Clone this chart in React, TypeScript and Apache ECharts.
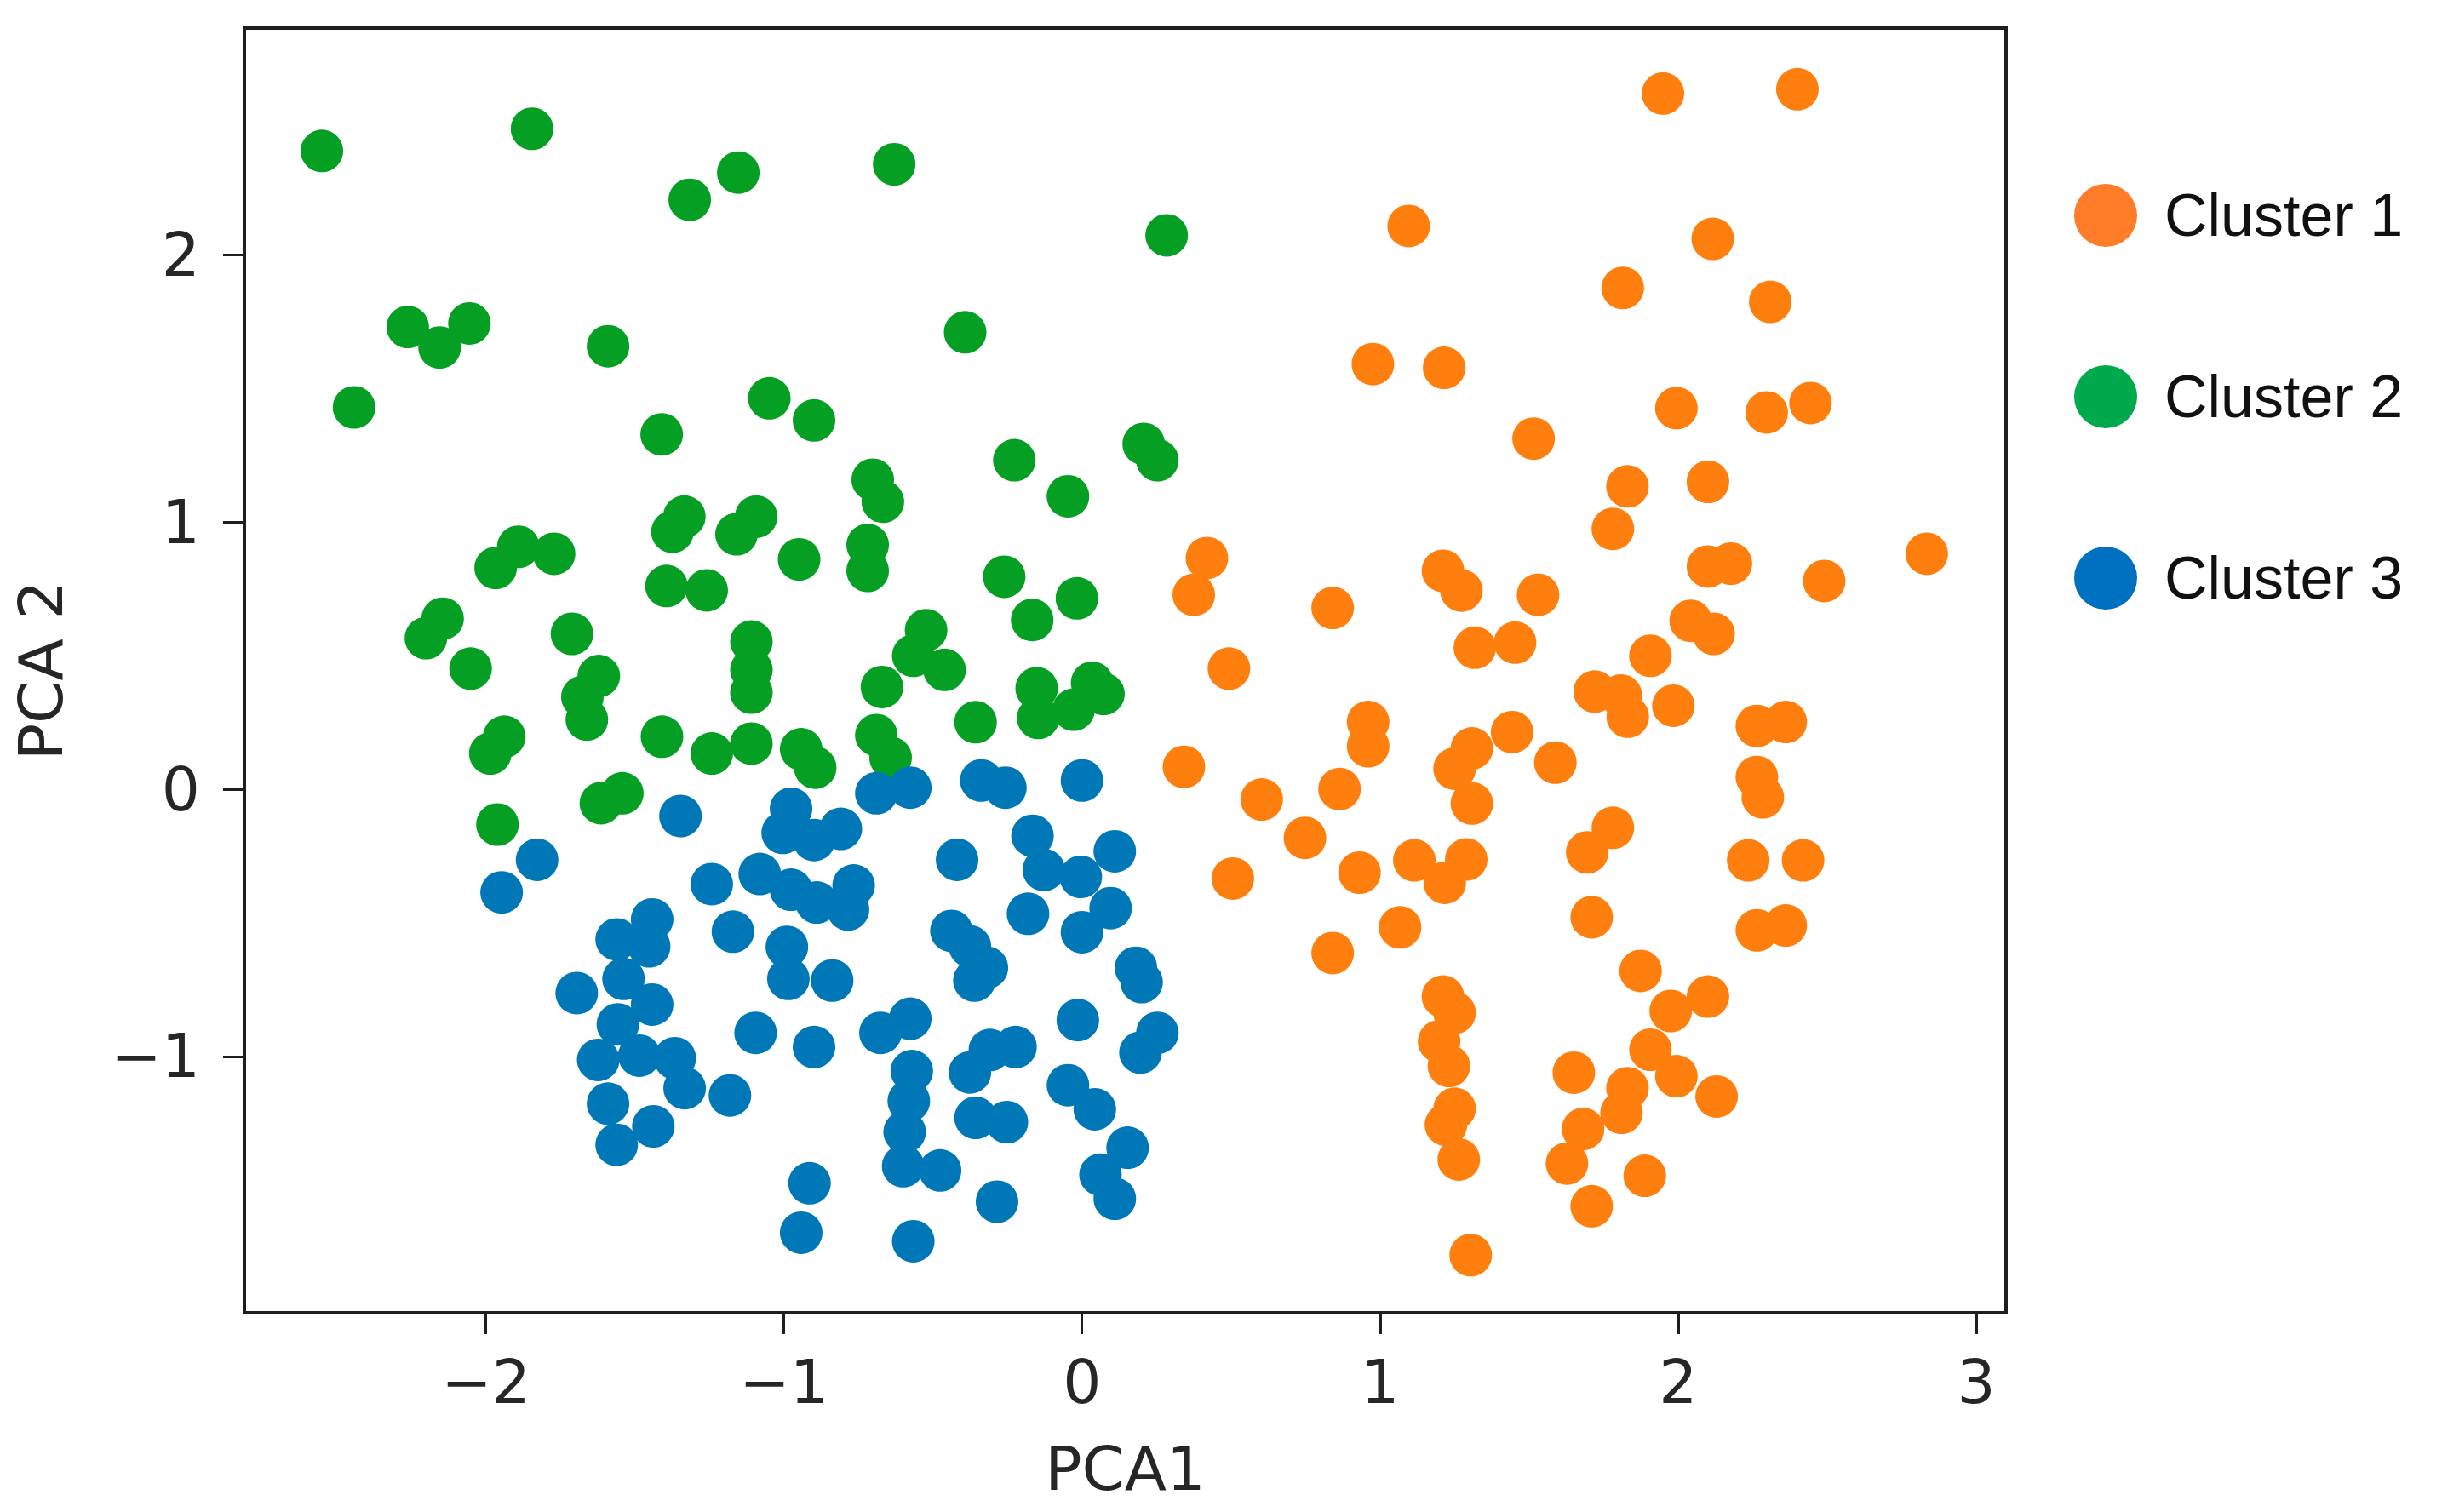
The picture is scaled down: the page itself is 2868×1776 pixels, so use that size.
import React, { useEffect, useRef } from "react";
import * as echarts from "echarts";

// Cluster 1 (orange) points [PCA1, PCA2]
const cluster1: [number, number][] = [
  [1.949, 2.605], [2.4, 2.621], [1.096, 2.109], [2.116, 2.061], [1.814, 1.877],
  [2.309, 1.825], [0.976, 1.592], [1.215, 1.578], [1.994, 1.427], [2.297, 1.411],
  [2.444, 1.446], [1.515, 1.313], [1.83, 1.134], [1.781, 0.975], [2.1, 1.151],
  [0.419, 0.866], [0.375, 0.728], [0.841, 0.679], [1.211, 0.818], [1.273, 0.744],
  [1.53, 0.728], [2.1, 0.834], [2.177, 0.845], [2.49, 0.78], [2.834, 0.882],
  [1.318, 0.53], [1.453, 0.549], [2.042, 0.631], [2.119, 0.582], [1.907, 0.5],
  [0.493, 0.452], [1.72, 0.366], [1.808, 0.351], [1.831, 0.272], [1.984, 0.313],
  [2.264, 0.237], [2.361, 0.252], [0.96, 0.252], [0.96, 0.161], [0.342, 0.084],
  [0.603, -0.038], [0.864, 0.001], [0.748, -0.182], [0.506, -0.334], [0.931, -0.312],
  [1.308, 0.153], [1.25, 0.077], [1.308, -0.053], [1.443, 0.214], [1.588, 0.1],
  [1.115, -0.266], [1.289, -0.263], [1.217, -0.35], [1.067, -0.517], [0.841, -0.613],
  [1.695, -0.236], [1.781, -0.144], [1.71, -0.479], [2.264, 0.046], [2.284, -0.03],
  [2.235, -0.266], [2.419, -0.266], [2.264, -0.528], [2.361, -0.51], [1.874, -0.68],
  [2.1, -0.776], [1.975, -0.83], [1.211, -0.776], [1.25, -0.837], [1.198, -0.944],
  [1.231, -1.036], [1.907, -0.975], [1.83, -1.119], [1.994, -1.074], [2.129, -1.15],
  [1.81, -1.211], [1.65, -1.061], [1.25, -1.196], [1.221, -1.256], [1.264, -1.386],
  [1.681, -1.272], [1.627, -1.401], [1.888, -1.447], [1.71, -1.561], [1.304, -1.744],
];

// Cluster 2 (green) points
const cluster2: [number, number][] = [
  [-2.55, 2.39], [-1.845, 2.473], [-1.316, 2.207], [-1.153, 2.309], [-0.63, 2.34],
  [0.284, 2.074], [-2.262, 1.731], [-2.155, 1.654], [-2.055, 1.744], [-1.59, 1.659],
  [-0.392, 1.711], [-2.442, 1.43], [-1.41, 1.329], [-1.049, 1.464], [-0.899, 1.381],
  [-0.227, 1.232], [-0.047, 1.097], [0.207, 1.293], [0.253, 1.232], [-0.702, 1.159],
  [-0.668, 1.077], [-0.719, 0.915], [-0.719, 0.818], [-1.334, 1.021], [-1.374, 0.964],
  [-1.093, 1.021], [-1.159, 0.955], [-0.949, 0.861], [-0.261, 0.796], [-0.017, 0.715],
  [-0.167, 0.634], [-1.891, 0.908], [-1.771, 0.882], [-1.967, 0.829], [-1.394, 0.761],
  [-1.259, 0.745], [-2.145, 0.639], [-2.201, 0.566], [-1.711, 0.582], [-2.051, 0.452],
  [-1.621, 0.424], [-1.676, 0.346], [-1.661, 0.261], [-1.938, 0.197], [-1.985, 0.134],
  [-1.109, 0.553], [-1.109, 0.447], [-1.109, 0.362], [-1.109, 0.171], [-1.409, 0.197],
  [-1.242, 0.134], [-0.942, 0.15], [-0.895, 0.081], [-0.671, 0.383], [-0.69, 0.203],
  [-0.642, 0.118], [-1.614, -0.052], [-1.542, -0.015], [-1.961, -0.132], [-0.523, 0.596],
  [-0.566, 0.5], [-0.461, 0.447], [-0.357, 0.251], [-0.152, 0.378], [-0.147, 0.267],
  [-0.028, 0.298], [0.034, 0.399], [0.072, 0.357],
];

// Cluster 3 (blue) points
const cluster3: [number, number][] = [
  [-1.347, -0.1], [-1.828, -0.264], [-1.947, -0.386], [-0.976, -0.073], [-1.004, -0.163],
  [-0.899, -0.19], [-0.809, -0.148], [-0.69, -0.015], [-0.576, 0.006], [-1.242, -0.355],
  [-1.081, -0.317], [-0.976, -0.376], [-0.89, -0.424], [-0.766, -0.36], [-0.785, -0.45],
  [-1.171, -0.533], [-0.99, -0.59], [-0.985, -0.71], [-0.838, -0.716], [-1.695, -0.763],
  [-1.442, -0.487], [-1.561, -0.562], [-1.452, -0.588], [-1.538, -0.71], [-1.442, -0.806],
  [-1.557, -0.88], [-1.623, -1.013], [-1.485, -0.997], [-1.366, -1.007], [-1.333, -1.119],
  [-1.59, -1.177], [-1.438, -1.262], [-1.561, -1.331], [-1.181, -1.146], [-1.095, -0.912],
  [-0.899, -0.965], [-0.676, -0.912], [-0.576, -0.859], [-0.914, -1.475], [-0.942, -1.66],
  [-0.566, -1.692], [-0.181, -0.466], [0.096, -0.445], [0.0, -0.535], [-0.438, -0.53],
  [-0.376, -0.588], [-0.319, -0.668], [-0.361, -0.716], [0.181, -0.668], [0.2, -0.722],
  [-0.014, -0.864], [0.253, -0.912], [0.196, -0.986], [-0.223, -0.965], [-0.309, -0.976],
  [-0.376, -1.06], [-0.571, -1.055], [-0.581, -1.167], [-0.595, -1.283], [-0.6, -1.411],
  [-0.476, -1.427], [-0.357, -1.23], [-0.252, -1.246], [-0.047, -1.108], [0.043, -1.198],
  [0.153, -1.342], [0.062, -1.443], [0.11, -1.533], [-0.285, -1.544], [-0.338, 0.033],
  [-0.257, 0.006], [0.0, 0.033], [-0.419, -0.264], [-0.166, -0.174], [-0.128, -0.302],
  [-0.004, -0.328], [0.11, -0.232],
];

const seriesNames = ["Cluster 1", "Cluster 2", "Cluster 3"];
const markerColors = ["#FF7F0E", "#05A023", "#0078B8"];
const legendColors = ["#FF7D28", "#00A94C", "#0070C0"];
const xTicks = [-2, -1, 0, 1, 2, 3];
const yTicks = [-1, 0, 1, 2];
const xTitle = "PCA1";
const yTitle = "PCA 2";

const fmt = (v: number) => (v < 0 ? "\u2212" + Math.abs(v) : String(v));

export default function App() {
  const ref = useRef<HTMLDivElement>(null);
  useEffect(() => {
    document.body.style.margin = "0";
    const chart = echarts.init(ref.current!, null, { renderer: "svg" });
    const axisColor = "#1e1e1e";
    const textColor = "#262626";
    const data = [cluster1, cluster2, cluster3];
    chart.setOption({
      animation: false,
      backgroundColor: "#ffffff",
      grid: {
        left: 287,
        top: 33,
        width: 2069,
        height: 1509,
        show: true,
        borderColor: axisColor,
        borderWidth: 4,
        backgroundColor: "transparent",
      },
      xAxis: {
        type: "value",
        min: -2.81,
        max: 3.1,
        name: xTitle,
        nameLocation: "middle",
        nameGap: 183,
        nameTextStyle: {
          fontFamily: "DejaVu Sans",
          fontSize: 72,
          color: textColor,
          align: "center",
          verticalAlign: "middle",
        },
        axisLine: { show: true, onZero: false, lineStyle: { color: axisColor, width: 4 } },
        axisTick: {
          show: true,
          inside: false,
          length: 25,
          customValues: xTicks,
          lineStyle: { color: axisColor, width: 3 },
        },
        axisLabel: {
          show: true,
          margin: 46,
          customValues: xTicks,
          formatter: fmt,
          fontFamily: "DejaVu Sans",
          fontSize: 71,
          color: textColor,
        },
        splitLine: { show: false },
      },
      yAxis: {
        type: "value",
        min: -1.96,
        max: 2.85,
        name: yTitle,
        nameLocation: "middle",
        nameGap: 239,
        nameTextStyle: {
          fontFamily: "DejaVu Sans",
          fontSize: 72,
          color: textColor,
          align: "center",
          verticalAlign: "middle",
        },
        axisLine: { show: true, onZero: false, lineStyle: { color: axisColor, width: 4 } },
        axisTick: {
          show: true,
          inside: false,
          length: 25,
          customValues: yTicks,
          lineStyle: { color: axisColor, width: 3 },
        },
        axisLabel: {
          show: true,
          margin: 52,
          customValues: yTicks,
          formatter: fmt,
          fontFamily: "DejaVu Sans",
          fontSize: 71,
          color: textColor,
        },
        splitLine: { show: false },
      },
      legend: {
        show: true,
        orient: "vertical",
        left: 2436,
        top: 216,
        padding: 0,
        itemWidth: 86,
        itemHeight: 74,
        itemGap: 139,
        icon: "path://M0,50 A50,50 0 1,1 100,50 A50,50 0 1,1 0,50 Z",
        selectedMode: false,
        textStyle: {
          fontFamily: "Liberation Sans",
          fontSize: 70,
          color: "#111111",
          lineHeight: 74,
          padding: [0, 0, 0, 21],
        },
        data: seriesNames.map((n, i) => ({ name: n, itemStyle: { color: legendColors[i] } })),
      },
      series: seriesNames.map((n, i) => ({
        type: "scatter",
        name: n,
        data: data[i],
        symbol: "circle",
        symbolSize: 50,
        itemStyle: { color: markerColors[i], opacity: 1 },
        emphasis: { disabled: true },
      })),
    });
    return () => chart.dispose();
  }, []);
  return (
    <div
      ref={ref}
      style={{ position: "absolute", left: 0, top: 0, width: 2868, height: 1776, background: "#fff" }}
    />
  );
}
